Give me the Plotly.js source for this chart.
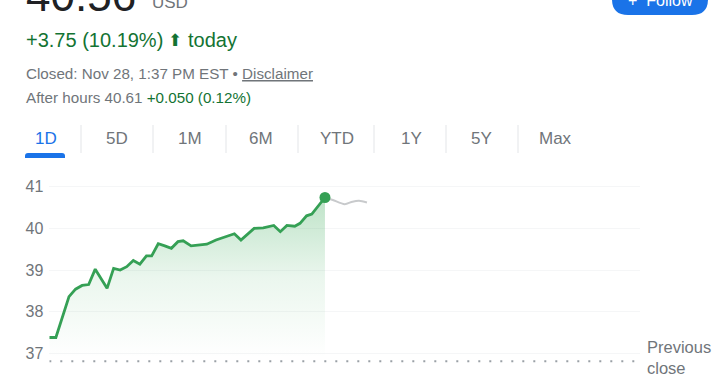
<!DOCTYPE html>
<html>
<head>
<meta charset="utf-8">
<script src="https://cdn.plot.ly/plotly-3.0.1.min.js"></script>
<style>
html,body{margin:0;padding:0;background:#fff;}
#chart{width:720px;height:380px;}
</style>
</head>
<body>
<div id="chart"></div>
<script>
// ---------- data ----------
const day = '2025-11-28 ';
const times = ['09:30','09:35','09:45','09:50','09:55','10:00','10:05','10:14','10:19','10:24','10:29','10:34','10:39','10:44','10:48','10:53','10:58','11:03','11:08','11:12','11:18','11:24','11:30','11:37','11:45','11:51','11:56','12:06','12:13','12:21','12:26','12:31','12:37','12:41','12:46','12:50','13:00'];
const prices = [37.38,37.38,38.36,38.54,38.63,38.65,39.02,38.56,39.04,39.00,39.08,39.23,39.14,39.34,39.34,39.63,39.58,39.52,39.68,39.70,39.58,39.60,39.62,39.72,39.80,39.87,39.72,40.00,40.01,40.07,39.92,40.07,40.05,40.12,40.30,40.34,40.74];
const afterTimes = ['13:00','13:06','13:15','13:21','13:26','13:32'];
const afterPrices = [40.74,40.68,40.58,40.64,40.66,40.62];
const prevClose = 36.81;
const sessionStart = '09:30';
const sessionEnd = '17:00';
const yTicks = [37,38,39,40,41];
const tabs = ['1D','5D','1M','6M','YTD','1Y','5Y','Max'];

// header texts
const priceText = '40.56';
const currency = 'USD';
const changeText = '+3.75 (10.19%)';
const closedText = 'Closed: Nov 28, 1:37 PM EST';
const afterLabel = 'After hours 40.61';
const afterChange = '+0.050 (0.12%)';

// ---------- layout helpers (pixel -> paper) ----------
const W = 720, H = 380;
const px = v => v / W;
const py = v => 1 - v / H;

const GREEN_TXT = '#137333';
const GREEN = '#35a055';
const GREY = '#70757a';
const FONT = 'Arial, "Liberation Sans", sans-serif';

const xs = times.map(t => day + t);
const axs = afterTimes.map(t => day + t);

const traces = [
  { // previous close dotted line
    x: [day + sessionStart, day + sessionEnd], y: [prevClose, prevClose],
    mode: 'lines', line: {color: '#9aa0a6', width: 2, dash: '2px,9px'},
    hoverinfo: 'skip', showlegend: false
  },
  { // main price line with gradient fill
    x: xs, y: prices, mode: 'lines',
    line: {color: GREEN, width: 2.8, shape: 'linear'},
    fill: 'tozeroy',
    fillgradient: {type: 'vertical', start: 36.9, stop: 40.75,
      colorscale: [[0, 'rgba(52,168,83,0)'], [0.5, 'rgba(52,168,83,0.10)'], [1, 'rgba(52,168,83,0.32)']]},
    showlegend: false
  },
  { // after hours
    x: axs, y: afterPrices, mode: 'lines',
    line: {color: '#c8cacc', width: 2, shape: 'spline', smoothing: 0.8},
    showlegend: false
  },
  { // close dot
    x: [xs[xs.length - 1]], y: [prices[prices.length - 1]], mode: 'markers',
    marker: {color: GREEN, size: 11}, showlegend: false
  }
];

// tabs positions
const tabCenters = [46, 117, 190, 261, 337, 411, 482, 555];
const sepX = [81, 153, 226, 298, 374, 446, 518];

const annotations = [];
function ann(text, x, y, size, color, extra) {
  annotations.push(Object.assign({
    text: text, x: px(x), y: py(y), xref: 'paper', yref: 'paper',
    xanchor: 'left', yanchor: 'middle', showarrow: false,
    font: {family: FONT, size: size, color: color}, align: 'left'
  }, extra || {}));
}
ann(priceText, 24, -4.5, 44, '#202124');
ann(currency, 150, 2.5, 17, GREY);
ann(changeText, 24, 40, 20, GREEN_TXT);
ann('⬆', 166, 40, 17, GREEN_TXT);
ann('today', 186, 40, 20, GREEN_TXT);
ann(closedText + ' • <span style="text-decoration:underline">Disclaimer</span>', 24, 74, 15.2, GREY);
ann(afterLabel + ' <span style="color:' + GREEN_TXT + '">' + afterChange + '</span>', 24, 97, 15.2, GREY);
tabs.forEach((t, i) => {
  ann(t, tabCenters[i], 138, 17, i === 0 ? '#1a73e8' : GREY, {xanchor: 'center'});
});
ann('Previous<br>close<br>' + prevClose.toFixed(2), 645, 368, 16.5, GREY);
ann('+  Follow', 626, 0, 16, '#ffffff');

const shapes = [];
// Follow button (pill)
(function () {
  const x0 = 612, x1 = 708, y0 = -25, y1 = 15, r = 16;
  const p = (a, b) => px(a) + ',' + py(b);
  const path = 'M' + p(x0 + r, y0) + ' L' + p(x1 - r, y0) + ' Q' + p(x1, y0) + ' ' + p(x1, y0 + r) +
    ' L' + p(x1, y1 - r) + ' Q' + p(x1, y1) + ' ' + p(x1 - r, y1) + ' L' + p(x0 + r, y1) +
    ' Q' + p(x0, y1) + ' ' + p(x0, y1 - r) + ' L' + p(x0, y0 + r) + ' Q' + p(x0, y0) + ' ' + p(x0 + r, y0) + ' Z';
  shapes.push({type: 'path', path: path, xref: 'paper', yref: 'paper', fillcolor: '#1a73e8', line: {width: 0}, layer: 'below'});
})();
// tab separators
sepX.forEach(x => shapes.push({type: 'line', xref: 'paper', yref: 'paper', x0: px(x), x1: px(x), y0: py(125), y1: py(153), line: {color: '#e3e5e8', width: 1}}));
// active tab underline
(function () {
  const x0 = 25, x1 = 65, y0 = 153, y1 = 158, r = 3;
  const p = (a, b) => px(a) + ',' + py(b);
  const path = 'M' + p(x0, y1) + ' L' + p(x0, y0 + r) + ' Q' + p(x0, y0) + ' ' + p(x0 + r, y0) +
    ' L' + p(x1 - r, y0) + ' Q' + p(x1, y0) + ' ' + p(x1, y0 + r) + ' L' + p(x1, y1) + ' Z';
  shapes.push({type: 'path', path: path, xref: 'paper', yref: 'paper', fillcolor: '#1a73e8', line: {width: 0}});
})();

const layout = {
  width: W, height: H,
  margin: {l: 0, r: 0, t: 0, b: 0},
  paper_bgcolor: '#ffffff', plot_bgcolor: '#ffffff',
  font: {family: FONT},
  showlegend: false,
  xaxis: {
    type: 'date', domain: [px(49.3), px(640)],
    range: [day + sessionStart, day + sessionEnd],
    showgrid: false, zeroline: false, showline: false, showticklabels: false, ticks: ''
  },
  yaxis: {
    domain: [py(370), py(170)], range: [36.6, 41.4],
    tickvals: yTicks, ticktext: yTicks.map(String),
    showgrid: true, gridcolor: '#f5f6f7', gridwidth: 1,
    zeroline: false, showline: false, ticks: '',
    ticklabelstandoff: 5,
    tickfont: {family: FONT, size: 16, color: GREY}
  },
  annotations: annotations,
  shapes: shapes
};

Plotly.newPlot('chart', traces, layout, {displayModeBar: false, staticPlot: true});
</script>
</body>
</html>
